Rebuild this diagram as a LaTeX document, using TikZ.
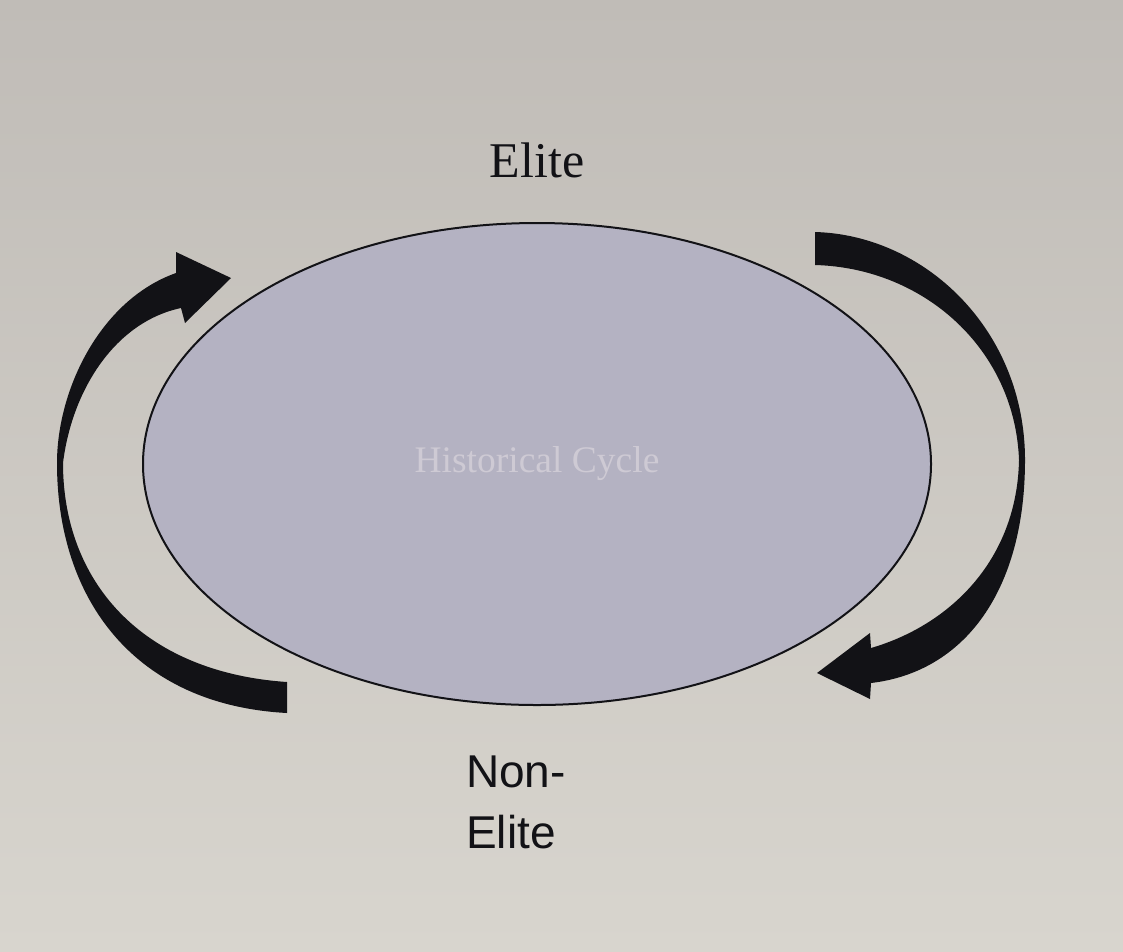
\documentclass[tikz,border=0pt]{standalone}
\usepackage{fontspec}
\usetikzlibrary{shapes.geometric}
\newfontfamily\myserif{Liberation Serif}
\newfontfamily\mysans{Liberation Sans}
\definecolor{bgtop}{RGB}{192,188,183}
\definecolor{bgbot}{RGB}{216,213,206}
\definecolor{ellfill}{RGB}{180,178,194}
\definecolor{faint}{RGB}{206,202,212}
\definecolor{inkblack}{RGB}{18,18,22}
\tikzset{
  cyclearrow/.style={fill=inkblack, draw=none},
  cycleshape/.style={ellipse, draw=inkblack, line width=2pt, fill=ellfill, inner sep=0pt},
  seriflabel/.style={font=\myserif\fontsize{50}{60}\selectfont, text=inkblack, inner sep=0pt},
  sanslabel/.style={font=\mysans\fontsize{46}{56}\selectfont, text=inkblack, inner sep=0pt}
}
\begin{document}
\begin{tikzpicture}[x=1pt,y=-1pt]
\shade[top color=bgtop, bottom color=bgbot] (0,0) rectangle (1123,951);
\useasboundingbox (0,0) rectangle (1123,951);

\node[cycleshape, minimum width=788pt, minimum height=482pt] (cycle) at (537,464) {};
\node[font=\myserif\fontsize{37.5}{42}\selectfont, text=faint, anchor=base, inner sep=0pt] (hist) at (537,472) {Historical Cycle};

\node[seriflabel, anchor=base] (elite) at (537,177) {Elite};
\node[sanslabel, anchor=base west] (non) at (466,787) {Non-};
\node[sanslabel, anchor=base west] (nonelite) at (466,848) {Elite};

% left arrow (upward)
\fill[cyclearrow] (287,713) .. controls (135,705) and (57,600) .. (57,463)
  .. controls (57,390) and (100,300) .. (176,273)
  -- (176,252) -- (231,278) -- (185,323) -- (181,308)
  .. controls (115,322) and (72,390) .. (63,463)
  .. controls (63,580) and (140,672) .. (287,682) -- cycle;

% right arrow (downward)
\fill[cyclearrow] (815,232) .. controls (925,235) and (1025,330) .. (1025,460)
  .. controls (1025,590) and (965,672) .. (871,683)
  -- (870,699) -- (817,673) -- (870,633) -- (871,648)
  .. controls (950,625) and (1017,560) .. (1019,460)
  .. controls (1015,350) and (925,268) .. (815,265) -- cycle;
\end{tikzpicture}
\end{document}
